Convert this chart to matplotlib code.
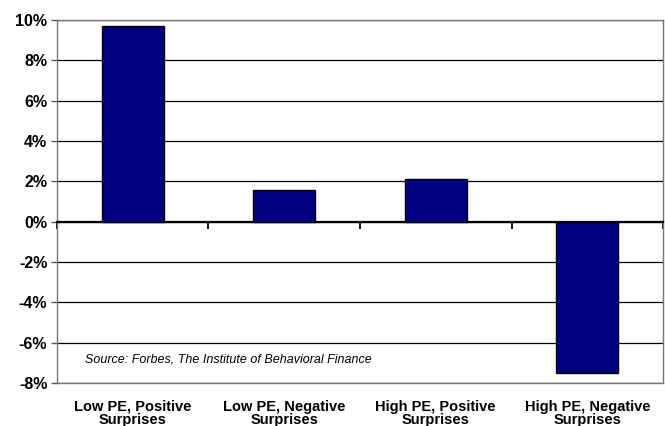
import matplotlib
matplotlib.use("Agg")
import matplotlib.pyplot as plt
import numpy as np

categories = [
    "Low PE, Positive\nSurprises",
    "Low PE, Negative\nSurprises",
    "High PE, Positive\nSurprises",
    "High PE, Negative\nSurprises",
]
returns_pct = [9.7, 1.58, 2.13, -7.52]
y_ticks = [-8, -6, -4, -2, 0, 2, 4, 6, 8, 10]
source_note = "Source: Forbes, The Institute of Behavioral Finance"

plt.rcParams["font.family"] = ["Liberation Sans", "DejaVu Sans"]

fig = plt.figure(figsize=(6.65, 4.26), dpi=100)
ax = fig.add_axes([0.0857, 0.101, 0.9113, 0.852])

x = np.arange(len(categories))
ax.bar(x, returns_pct, width=0.41, color="#000080", edgecolor="black",
       linewidth=1.0, zorder=3)

ax.set_xlim(-0.5, len(categories) - 0.5)
ax.set_ylim(y_ticks[0], y_ticks[-1])

# gridlines
for t in y_ticks:
    ax.axhline(t, color="black", linewidth=0.9, zorder=1)

ax.set_yticks(y_ticks)
ax.set_yticklabels([f"{t}%" for t in y_ticks], fontsize=11.5, fontweight="bold")
ax.tick_params(axis="y", direction="out", length=4, width=1, color="#555555", pad=3)

# zero axis with tick marks between categories
ax.spines["bottom"].set_position(("data", 0))
ax.spines["bottom"].set_linewidth(1.6)
ax.set_xticks(np.arange(len(categories) + 1) - 0.5)
ax.set_xticklabels([])
ax.tick_params(axis="x", direction="out", length=5, width=1.3, color="black")

for side in ["left", "top", "right"]:
    ax.spines[side].set_color("#777777")
    ax.spines[side].set_linewidth(1.0)

# category labels along the bottom edge
sec = ax.secondary_xaxis("bottom")
sec.set_xticks(x)
sec.set_xticklabels(categories, fontsize=10.5, fontweight="bold", linespacing=0.95)
sec.tick_params(length=0, pad=12)
sec.spines["bottom"].set_color("#777777")
sec.spines["bottom"].set_linewidth(1.0)

ax.text(0.046, 0.066, source_note, transform=ax.transAxes, fontsize=9,
        style="italic", va="center", ha="left", zorder=4)

fig.savefig("out.png", dpi=100)
